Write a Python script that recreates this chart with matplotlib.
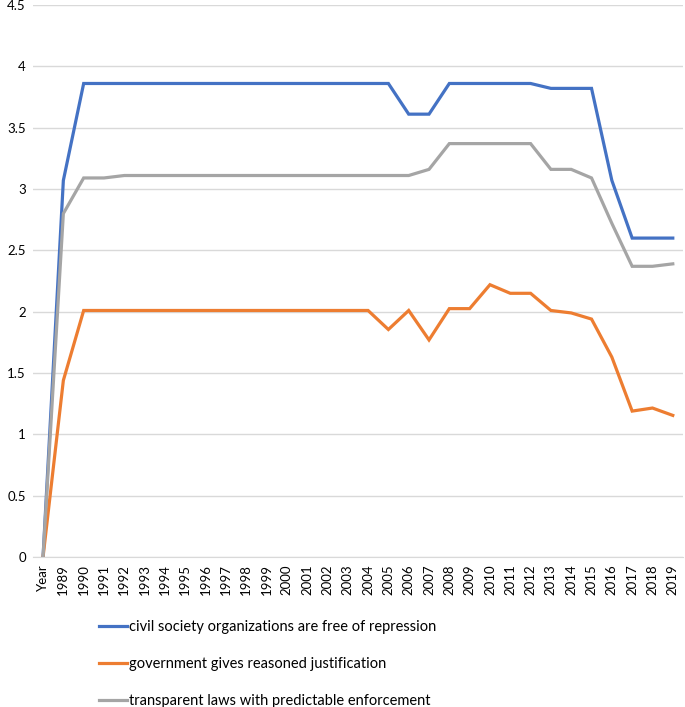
import matplotlib.pyplot as plt
from matplotlib.lines import Line2D

plt.rcParams['font.family'] = ['Lato', 'DejaVu Sans']

# categories along the x axis
years = ['Year'] + [str(y) for y in range(1989, 2020)]

civil = [0, 3.07, 3.86, 3.86, 3.86, 3.86, 3.86, 3.86, 3.86, 3.86, 3.86,
         3.86, 3.86, 3.86, 3.86, 3.86, 3.86, 3.86, 3.61, 3.61, 3.86, 3.86,
         3.86, 3.86, 3.86, 3.82, 3.82, 3.82, 3.07, 2.60, 2.60, 2.60]
govt = [0, 1.44, 2.01, 2.01, 2.01, 2.01, 2.01, 2.01, 2.01, 2.01, 2.01,
        2.01, 2.01, 2.01, 2.01, 2.01, 2.01, 1.855, 2.01, 1.77, 2.025, 2.025,
        2.22, 2.15, 2.15, 2.01, 1.99, 1.94, 1.63, 1.19, 1.215, 1.155]
laws = [0, 2.80, 3.09, 3.09, 3.11, 3.11, 3.11, 3.11, 3.11, 3.11, 3.11,
        3.11, 3.11, 3.11, 3.11, 3.11, 3.11, 3.11, 3.11, 3.16, 3.37, 3.37,
        3.37, 3.37, 3.37, 3.16, 3.16, 3.09, 2.72, 2.37, 2.37, 2.39]

labels = ['civil society organizations are free of repression',
          'government gives reasoned justification',
          'transparent laws with predictable enforcement']
colors = ['#4472C4', '#ED7D31', '#A5A5A5']

fig = plt.figure(figsize=(6.85, 7.07), dpi=100)
ax = fig.add_axes([0.048, 0.212, 0.949, 0.781])

x = range(len(years))
ax.plot(x, civil, color=colors[0], lw=2.3, solid_joinstyle='miter')
ax.plot(x, govt, color=colors[1], lw=2.3, solid_joinstyle='miter')
ax.plot(x, laws, color=colors[2], lw=2.3, solid_joinstyle='miter')

ax.set_xlim(-0.5, len(years) - 0.5)
ax.set_ylim(0, 4.5)
ax.set_yticks([0, 0.5, 1, 1.5, 2, 2.5, 3, 3.5, 4, 4.5])
ax.set_yticklabels(['0', '0.5', '1', '1.5', '2', '2.5', '3', '3.5', '4', '4.5'])
ax.set_xticks(list(x))
ax.set_xticklabels(years, rotation=90)
ax.tick_params(length=0, labelsize=9.5, colors='#000000', pad=5)
ax.grid(axis='y', color='#D9D9D9', lw=1)
ax.set_axisbelow(True)
for s in ['top', 'right', 'left']:
    ax.spines[s].set_visible(False)
ax.spines['bottom'].set_color('#D9D9D9')

handles = [Line2D([], [], color=c, lw=2.3) for c in colors]
fig.legend(handles, labels, loc='upper left', bbox_to_anchor=(0.126, 0.141),
           frameon=False, fontsize=10.5, handlelength=1.9, handletextpad=0.15,
           labelspacing=1.55)

fig.savefig('out.png', dpi=100)
